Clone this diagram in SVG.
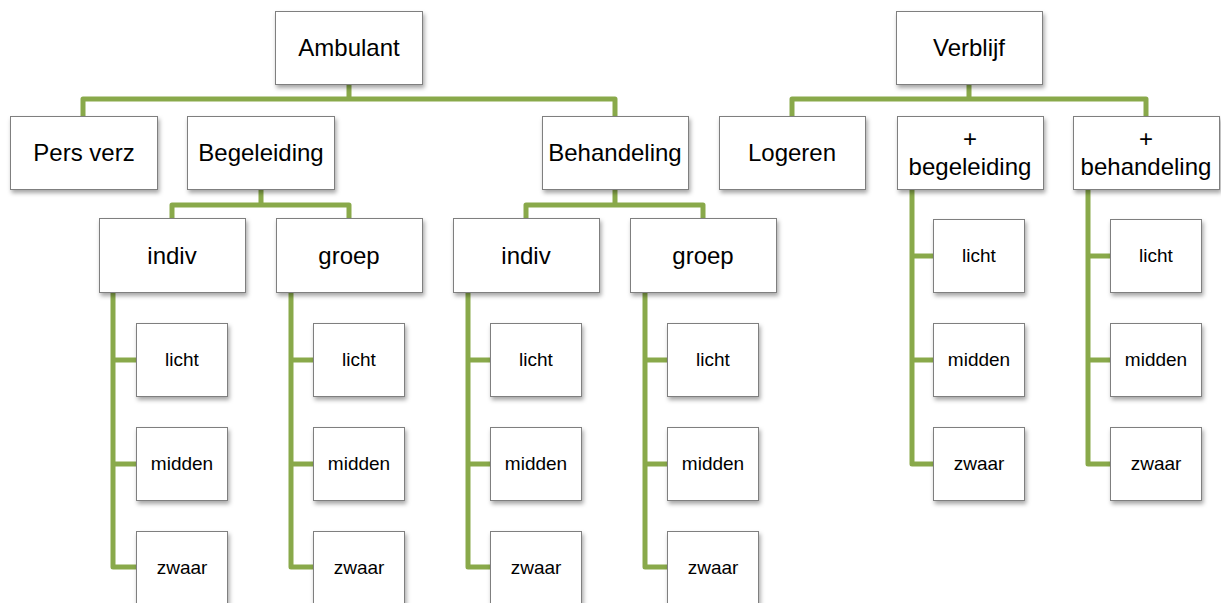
<svg xmlns="http://www.w3.org/2000/svg" width="1221" height="603" viewBox="0 0 1221 603">
<style>
.c{fill:none;stroke:#89A94A;stroke-width:5;stroke-linejoin:round;stroke-linecap:butt}
.b{fill:#fff;stroke:#7f7f7f;stroke-width:1;filter:url(#sh)}
.t{font-family:"Liberation Sans",Arial,sans-serif;font-size:24px;fill:#000;text-anchor:middle}
.s{font-family:"Liberation Sans",Arial,sans-serif;font-size:19px;fill:#000;text-anchor:middle}
</style>
<defs>
<filter id="sh" x="-10%" y="-10%" width="130%" height="140%">
<feDropShadow dx="1.5" dy="3" stdDeviation="2" flood-color="#000" flood-opacity="0.35"/>
</filter>
</defs>
<rect width="1221" height="603" fill="#fff"/>
<g id="connectors">
<path class="c" d="M349 84V99M83 118V99H615V118"/>
<path class="c" d="M261 189V205M172 220V205H349V220"/>
<path class="c" d="M615 189V205M526 220V205H703V220"/>
<path class="c" d="M969 84V99M792 118V99H1146V118"/>
<path class="c" d="M113 292V567H138M113 360H138M113 464H138"/>
<path class="c" d="M291 292V567H315M291 360H315M291 464H315"/>
<path class="c" d="M468 292V567H492M468 360H492M468 464H492"/>
<path class="c" d="M645 292V567H669M645 360H669M645 464H669"/>
<path class="c" d="M912 189V464H935M912 256H935M912 360H935"/>
<path class="c" d="M1088 189V464H1112M1088 256H1112M1088 360H1112"/>
</g>
<g id="n-ambulant"><rect class="b" x="275.5" y="11.5" width="147" height="73"/><text class="t" x="349" y="56">Ambulant</text></g>
<g id="n-verblijf"><rect class="b" x="896.5" y="11.5" width="146" height="73"/><text class="t" x="969" y="56">Verblijf</text></g>
<g id="n-persverz"><rect class="b" x="10.5" y="116.5" width="147" height="73"/><text class="t" x="84" y="161">Pers verz</text></g>
<g id="n-begeleiding"><rect class="b" x="187.5" y="116.5" width="147" height="73"/><text class="t" x="261" y="161">Begeleiding</text></g>
<g id="n-behandeling"><rect class="b" x="542.5" y="116.5" width="146" height="73"/><text class="t" x="615" y="161">Behandeling</text></g>
<g id="n-logeren"><rect class="b" x="719.5" y="116.5" width="146" height="73"/><text class="t" x="792" y="161">Logeren</text></g>
<g id="n-pbegeleiding"><rect class="b" x="897.5" y="116.5" width="146" height="73"/><text class="t" x="970" y="147">+</text><text class="t" x="970" y="175">begeleiding</text></g>
<g id="n-pbehandeling"><rect class="b" x="1073.5" y="116.5" width="146" height="73"/><text class="t" x="1146" y="147">+</text><text class="t" x="1146" y="175">behandeling</text></g>
<g id="n-beg-indiv"><rect class="b" x="99.5" y="218.5" width="146" height="74"/><text class="t" x="172" y="264">indiv</text></g>
<g id="n-beg-groep"><rect class="b" x="276.5" y="218.5" width="146" height="74"/><text class="t" x="349" y="264">groep</text></g>
<g id="n-beh-indiv"><rect class="b" x="453.5" y="218.5" width="146" height="74"/><text class="t" x="526" y="264">indiv</text></g>
<g id="n-beh-groep"><rect class="b" x="630.5" y="218.5" width="146" height="74"/><text class="t" x="703" y="264">groep</text></g>
<g id="n-l1a"><rect class="b" x="136.5" y="323.5" width="91" height="73"/><text class="s" x="182" y="366">licht</text></g>
<g id="n-l1b"><rect class="b" x="136.5" y="427.5" width="91" height="73"/><text class="s" x="182" y="470">midden</text></g>
<g id="n-l1c"><rect class="b" x="136.5" y="531.5" width="91" height="74"/><text class="s" x="182" y="574">zwaar</text></g>
<g id="n-l2a"><rect class="b" x="313.5" y="323.5" width="91" height="73"/><text class="s" x="359" y="366">licht</text></g>
<g id="n-l2b"><rect class="b" x="313.5" y="427.5" width="91" height="73"/><text class="s" x="359" y="470">midden</text></g>
<g id="n-l2c"><rect class="b" x="313.5" y="531.5" width="91" height="74"/><text class="s" x="359" y="574">zwaar</text></g>
<g id="n-l3a"><rect class="b" x="490.5" y="323.5" width="91" height="73"/><text class="s" x="536" y="366">licht</text></g>
<g id="n-l3b"><rect class="b" x="490.5" y="427.5" width="91" height="73"/><text class="s" x="536" y="470">midden</text></g>
<g id="n-l3c"><rect class="b" x="490.5" y="531.5" width="91" height="74"/><text class="s" x="536" y="574">zwaar</text></g>
<g id="n-l4a"><rect class="b" x="667.5" y="323.5" width="91" height="73"/><text class="s" x="713" y="366">licht</text></g>
<g id="n-l4b"><rect class="b" x="667.5" y="427.5" width="91" height="73"/><text class="s" x="713" y="470">midden</text></g>
<g id="n-l4c"><rect class="b" x="667.5" y="531.5" width="91" height="74"/><text class="s" x="713" y="574">zwaar</text></g>
<g id="n-l5a"><rect class="b" x="933.5" y="219.5" width="91" height="73"/><text class="s" x="979" y="262">licht</text></g>
<g id="n-l5b"><rect class="b" x="933.5" y="323.5" width="91" height="73"/><text class="s" x="979" y="366">midden</text></g>
<g id="n-l5c"><rect class="b" x="933.5" y="427.5" width="91" height="73"/><text class="s" x="979" y="470">zwaar</text></g>
<g id="n-l6a"><rect class="b" x="1110.5" y="219.5" width="91" height="73"/><text class="s" x="1156" y="262">licht</text></g>
<g id="n-l6b"><rect class="b" x="1110.5" y="323.5" width="91" height="73"/><text class="s" x="1156" y="366">midden</text></g>
<g id="n-l6c"><rect class="b" x="1110.5" y="427.5" width="91" height="73"/><text class="s" x="1156" y="470">zwaar</text></g>
</svg>
